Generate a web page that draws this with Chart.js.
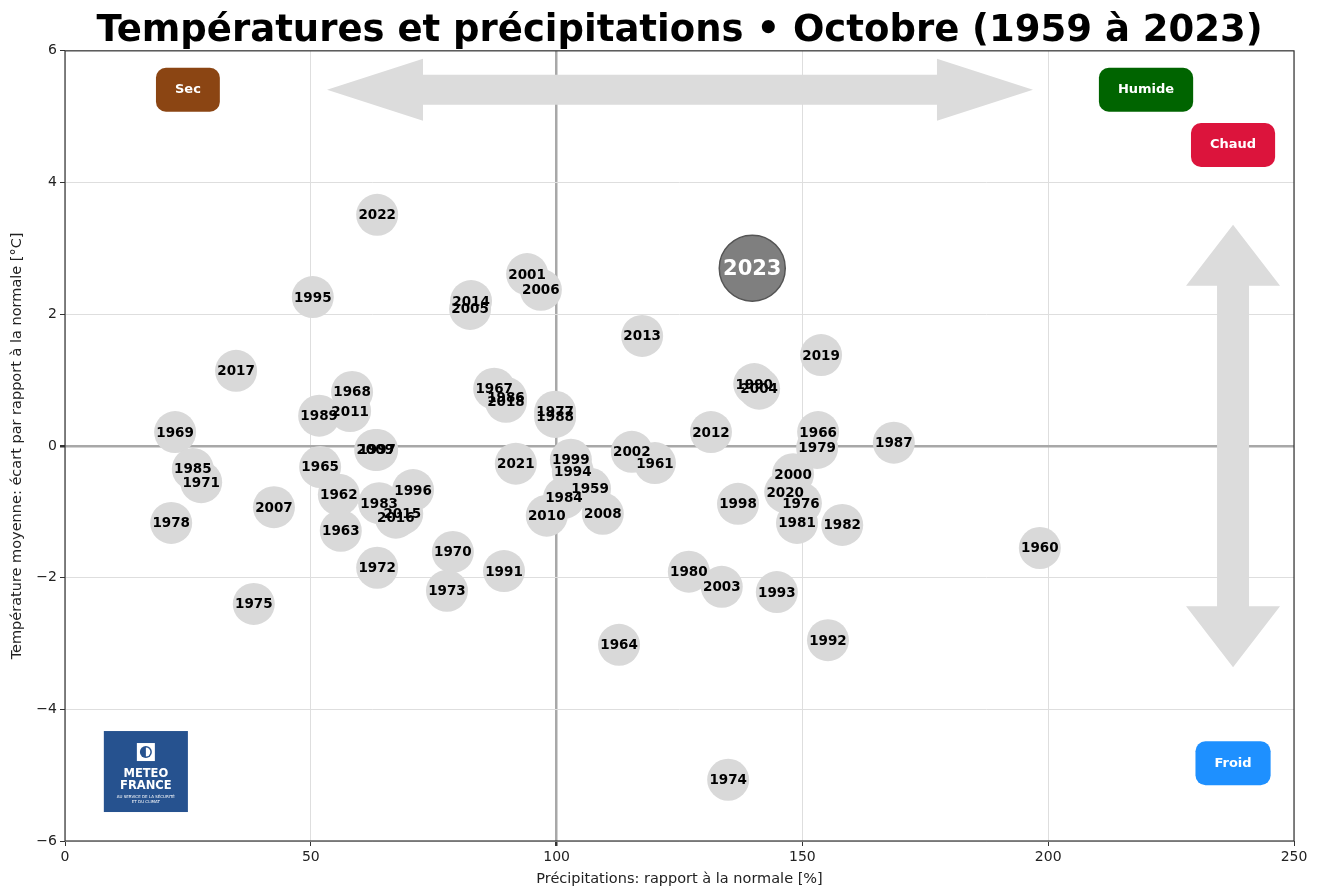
<!DOCTYPE html>
<html>
<head>
<meta charset="utf-8">
<script src="https://cdn.jsdelivr.net/npm/chart.js@4/dist/chart.umd.min.js"></script>
<style>
html,body{margin:0;padding:0;background:#fff;overflow:hidden;}
#wrap{width:1319px;height:888px;}
canvas{display:block;}
</style>
</head>
<body>
<div id="wrap"><canvas id="c" width="1319" height="888" style="width:1319px;height:888px;"></canvas></div>
<script>
const years = [1959,1960,1961,1962,1963,1964,1965,1966,1967,1968,1969,1970,1971,1972,1973,1974,1975,1976,1977,1978,1979,1980,1981,1982,1983,1984,1985,1986,1987,1988,1989,1990,1991,1992,1993,1994,1995,1996,1997,1998,1999,2000,2001,2002,2003,2004,2005,2006,2007,2008,2009,2010,2011,2012,2013,2014,2015,2016,2017,2018,2019,2020,2021,2022,2023];
const precip = [106.8,198.3,120.0,55.7,56.1,112.7,51.9,153.2,87.3,58.4,22.4,78.9,27.7,63.5,77.7,134.9,38.4,149.7,99.7,21.6,153.0,126.9,148.9,158.1,63.9,101.5,26.0,89.7,168.6,99.7,51.7,140.2,89.3,155.2,144.8,103.3,50.4,70.8,63.5,136.9,102.9,148.1,94.0,115.3,133.6,141.2,82.4,96.8,42.5,109.4,63.1,98.0,58.0,131.4,117.4,82.6,68.6,67.3,34.8,89.7,153.8,146.5,91.7,63.5,139.8];
const temp = [-0.65,-1.55,-0.26,-0.74,-1.29,-3.02,-0.32,0.21,0.87,0.82,0.21,-1.61,-0.55,-1.85,-2.20,-5.07,-2.40,-0.87,0.52,-1.17,-0.03,-1.91,-1.17,-1.20,-0.87,-0.79,-0.35,0.73,0.05,0.44,0.46,0.94,-1.90,-2.95,-2.22,-0.39,2.26,-0.67,-0.06,-0.88,-0.21,-0.43,2.61,-0.09,-2.14,0.87,2.08,2.37,-0.93,-1.03,-0.06,-1.06,0.53,0.21,1.67,2.20,-1.03,-1.09,1.14,0.67,1.38,-0.70,-0.27,3.51,2.70];
const xTicks = [0,50,100,150,200,250];
const yTicks = [-6,-4,-2,0,2,4,6];
const highlightYear = 2023;
const titleText = 'Températures et précipitations • Octobre (1959 à 2023)';
const xTitle = 'Précipitations: rapport à la normale [%]';
const yTitle = 'Température moyenne: écart par rapport à la normale [°C]';
const tags = [
  {text:'Sec', x:25.0, y:5.41, color:'#8B4513'},
  {text:'Humide', x:219.9, y:5.41, color:'#006400'},
  {text:'Chaud', x:237.6, y:4.57, color:'#DC143C'},
  {text:'Froid', x:237.6, y:-4.82, color:'#1E90FF'}
];

const FONT = '"DejaVu Sans", sans-serif';
const GREY = '#d9d9d9';

const decor = {
  id:'decor',
  beforeDatasetsDraw(chart){
    const ctx = chart.ctx, xs = chart.scales.x, ys = chart.scales.y;
    ctx.save();
    ctx.fillStyle = '#dcdcdc';
    const hx1 = xs.getPixelForValue(53.3), hx2 = xs.getPixelForValue(196.9), hy = ys.getPixelForValue(5.41);
    const hl = 96, hs = 15, hh = 31;
    ctx.beginPath();
    ctx.moveTo(hx1, hy);
    ctx.lineTo(hx1+hl, hy-hh); ctx.lineTo(hx1+hl, hy-hs);
    ctx.lineTo(hx2-hl, hy-hs); ctx.lineTo(hx2-hl, hy-hh);
    ctx.lineTo(hx2, hy);
    ctx.lineTo(hx2-hl, hy+hh); ctx.lineTo(hx2-hl, hy+hs);
    ctx.lineTo(hx1+hl, hy+hs); ctx.lineTo(hx1+hl, hy+hh);
    ctx.closePath(); ctx.fill();
    const vx = xs.getPixelForValue(237.6), vy1 = ys.getPixelForValue(3.36), vy2 = ys.getPixelForValue(-3.36);
    const vl = 61, vs = 16, vh = 47;
    ctx.beginPath();
    ctx.moveTo(vx, vy1);
    ctx.lineTo(vx+vh, vy1+vl); ctx.lineTo(vx+vs, vy1+vl);
    ctx.lineTo(vx+vs, vy2-vl); ctx.lineTo(vx+vh, vy2-vl);
    ctx.lineTo(vx, vy2);
    ctx.lineTo(vx-vh, vy2-vl); ctx.lineTo(vx-vs, vy2-vl);
    ctx.lineTo(vx-vs, vy1+vl); ctx.lineTo(vx-vh, vy1+vl);
    ctx.closePath(); ctx.fill();
    ctx.restore();
  },
  afterDatasetsDraw(chart){
    const ctx = chart.ctx, xs = chart.scales.x, ys = chart.scales.y;
    const meta = chart.getDatasetMeta(0);
    ctx.save();
    ctx.textAlign = 'center'; ctx.textBaseline = 'middle';
    meta.data.forEach((el, i) => {
      const hi = years[i] === highlightYear;
      ctx.font = hi ? 'bold 21px ' + FONT : 'bold 13.5px ' + FONT;
      ctx.fillStyle = hi ? '#ffffff' : '#000000';
      ctx.fillText(String(years[i]), el.x, el.y + 1);
    });
    tags.forEach(t => {
      const cx = xs.getPixelForValue(t.x), cy = ys.getPixelForValue(t.y);
      ctx.font = 'bold 13px ' + FONT;
      const w = ctx.measureText(t.text).width + 38, h = 44;
      ctx.fillStyle = t.color;
      ctx.beginPath();
      ctx.roundRect(cx - w/2, cy - h/2, w, h, 10);
      ctx.fill();
      ctx.fillStyle = '#fff';
      ctx.fillText(t.text, cx, cy);
    });
    const lx1 = xs.getPixelForValue(7.9), lx2 = xs.getPixelForValue(25.0);
    const ly1 = ys.getPixelForValue(-4.33), ly2 = ys.getPixelForValue(-5.56);
    ctx.fillStyle = '#26528f';
    ctx.fillRect(lx1, ly1, lx2-lx1, ly2-ly1);
    const lc = (lx1+lx2)/2;
    ctx.fillStyle = '#fff';
    ctx.fillRect(lc-9, ly1+12, 18, 18);
    ctx.fillStyle = '#26528f';
    ctx.beginPath(); ctx.arc(lc, ly1+21, 6, 0, Math.PI*2); ctx.fill();
    ctx.fillStyle = '#fff';
    ctx.beginPath(); ctx.arc(lc, ly1+21, 4.5, -Math.PI/2, Math.PI/2); ctx.fill();
    ctx.font = 'bold 11.5px ' + FONT;
    ctx.fillText('METEO', lc, ly1+43);
    ctx.fillText('FRANCE', lc, ly1+55);
    ctx.font = '4px ' + FONT;
    ctx.fillText('AU SERVICE DE LA SÉCURITÉ', lc, ly1+66);
    ctx.fillText('ET DU CLIMAT', lc, ly1+71);
    const a = chart.chartArea;
    ctx.strokeStyle = '#333'; ctx.lineWidth = 1.2;
    ctx.strokeRect(a.left, a.top, a.right - a.left, a.bottom - a.top);
    ctx.restore();
  }
};

const ctx = document.getElementById('c').getContext('2d');
new Chart(ctx, {
  type:'scatter',
  data:{
    datasets:[{
      data: precip.map((p,i)=>({x:p, y:temp[i]})),
      pointRadius: c => years[c.dataIndex] === highlightYear ? 33 : 21,
      pointHoverRadius: c => years[c.dataIndex] === highlightYear ? 33 : 21,
      backgroundColor: c => years[c.dataIndex] === highlightYear ? '#7f7f7f' : GREY,
      borderColor: c => years[c.dataIndex] === highlightYear ? '#555555' : GREY,
      borderWidth: c => years[c.dataIndex] === highlightYear ? 1.5 : 0
    }]
  },
  options:{
    responsive:false,
    animation:false,
    events:[],
    layout:{autoPadding:false, padding:{left:0,right:25,top:0,bottom:0}},
    plugins:{
      legend:{display:false},
      tooltip:{enabled:false},
      title:{
        display:true, text:titleText, fullSize:false,
        font:{family:FONT, size:37, weight:'bold', lineHeight:1.05}, color:'#000',
        padding:{top:12,bottom:0}
      }
    },
    scales:{
      x:{
        type:'linear', min:0, max:250,
        afterBuildTicks: s => { s.ticks = xTicks.map(v=>({value:v})); },
        afterFit: s => { s.height = 47; },
        ticks:{font:{family:FONT,size:14}, color:'#222', padding:3},
        grid:{
          color: c => c.tick && c.tick.value === 100 ? '#a8a8a8' : '#dedede',
          lineWidth: c => c.tick && c.tick.value === 100 ? 2.5 : 1,
          tickColor:'#333', tickLength:5, drawOnChartArea:true
        },
        border:{display:false},
        title:{display:true, text:xTitle, font:{family:FONT,size:14.5}, color:'#222', padding:{top:2,bottom:0}}
      },
      y:{
        type:'linear', min:-6, max:6,
        afterBuildTicks: s => { s.ticks = yTicks.map(v=>({value:v})); },
        afterFit: s => { s.width = 65; },
        ticks:{font:{family:FONT,size:14}, color:'#222', padding:3,
          callback: v => String(v).replace('-', '\u2212')},
        grid:{
          color: c => c.tick && c.tick.value === 0 ? '#a8a8a8' : '#dedede',
          lineWidth: c => c.tick && c.tick.value === 0 ? 2.5 : 1,
          tickColor:'#333', tickLength:5
        },
        border:{display:false},
        title:{display:true, text:yTitle, font:{family:FONT,size:14.5}, color:'#222', padding:{top:9,bottom:0}}
      }
    }
  },
  plugins:[decor]
});
</script>
</body>
</html>
